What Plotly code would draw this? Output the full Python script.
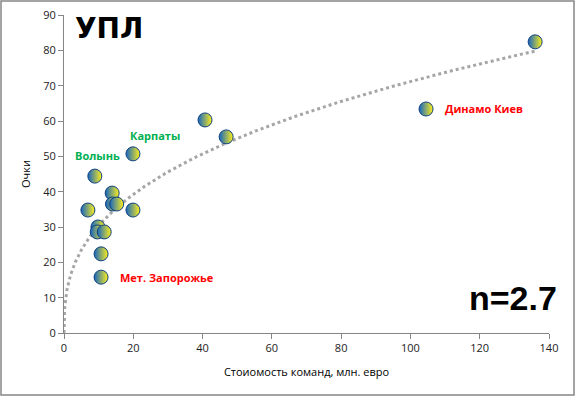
import numpy as np
import plotly.graph_objects as go

# Data: team value (mln EUR) vs points
team_value = [136.0, 104.5, 40.7, 46.8, 19.9, 8.9, 13.9, 14.0, 15.2, 6.9, 19.9, 9.8, 9.6, 11.6, 10.7, 10.7]
points =     [82.4, 63.4, 60.3, 55.5, 50.7, 44.4, 39.6, 36.5, 36.5, 34.8, 34.8, 30.0, 28.6, 28.6, 22.4, 15.8]

label_names = ["Динамо Киев", "Карпаты", "Волынь", "Мет. Запорожье"]
label_colors = ["#ff0000", "#00b050", "#00b050", "#ff0000"]
label_idx = [1, 4, 5, 15]

x_ticks = [0, 20, 40, 60, 80, 100, 120, 140]
y_ticks = [0, 10, 20, 30, 40, 50, 60, 70, 80, 90]

# Power trendline (least squares in log space, as Excel does)
lx = np.log(np.array(team_value))
ly = np.log(np.array(points))
b, ln_a = np.polyfit(lx, ly, 1)
a = np.exp(ln_a)
tx = max(team_value) * np.linspace(0, 1, 400) ** 2.5
ty = a * tx ** b

fig = go.Figure()
fig.add_trace(go.Scatter(x=tx, y=ty, mode="lines",
                         line=dict(color="#a6a6a6", width=3, dash="dot"),
                         hoverinfo="skip", showlegend=False))
fig.add_trace(go.Scatter(x=team_value, y=points, mode="markers",
                         marker=dict(symbol="circle", size=14, color="#1565c0",
                                     gradient=dict(type="horizontal", color="#fff01a"),
                                     line=dict(color="#0d3f80", width=1)),
                         showlegend=False))

offsets = {1: (17, 0, "left"), 4: (22, 18, "center"), 5: (3, 21, "center"), 15: (17, 0, "left")}
for name, col, i in zip(label_names, label_colors, label_idx):
    dx, dy, anchor = offsets[i]
    fig.add_annotation(x=team_value[i], y=points[i], text="<b>" + name + "</b>",
                       showarrow=False, xshift=dx, yshift=dy, xanchor=anchor,
                       font=dict(family="Open Sans", size=11, color=col))

fig.add_annotation(xref="paper", yref="paper", x=0.0186, y=1.0, xanchor="left", yanchor="top",
                   yshift=5,
                   text="<b>УПЛ</b>", showarrow=False,
                   font=dict(family="DejaVu Sans", size=28, color="black"))
fig.add_annotation(xref="paper", yref="paper", x=1.0, y=0.0, xanchor="right", yanchor="bottom",
                   yshift=14, xshift=10,
                   text="<b>n=2.7</b>", showarrow=False,
                   font=dict(family="Liberation Sans", size=34, color="black"))

L, R, T, B = 64, 26, 15, 63
W, H = 575, 396
pw, ph = W - L - R, H - T - B
fig.add_shape(type="rect", xref="paper", yref="paper",
              x0=(-L + 1) / pw, x1=(W - L - 1) / pw,
              y0=(-B + 1) / ph, y1=(H - B - 1) / ph,
              line=dict(color="#878787", width=1.5))

axis_common = dict(showgrid=False, zeroline=False, showline=True, linecolor="#868686",
                   linewidth=1, ticks="outside", tickcolor="#868686", ticklen=5,
                   automargin=False,
                   tickfont=dict(family="Open Sans", size=11, color="#222"))
fig.update_xaxes(range=[0, 140], tickvals=x_ticks,
                 title=dict(text="Стоиомость команд, млн. евро", standoff=14,
                            font=dict(family="Open Sans", size=11, color="black")),
                 **axis_common)
fig.update_yaxes(range=[0, 90], tickvals=y_ticks,
                 title=dict(text="Очки", standoff=10,
                            font=dict(family="Open Sans", size=11, color="black")),
                 **axis_common)

fig.update_layout(width=W, height=H, margin=dict(l=L, r=R, t=T, b=B, autoexpand=False),
                  plot_bgcolor="white", paper_bgcolor="white", showlegend=False)

fig.write_html("out.html", config={"displayModeBar": False},
               post_script="document.body.style.margin='0px';")
